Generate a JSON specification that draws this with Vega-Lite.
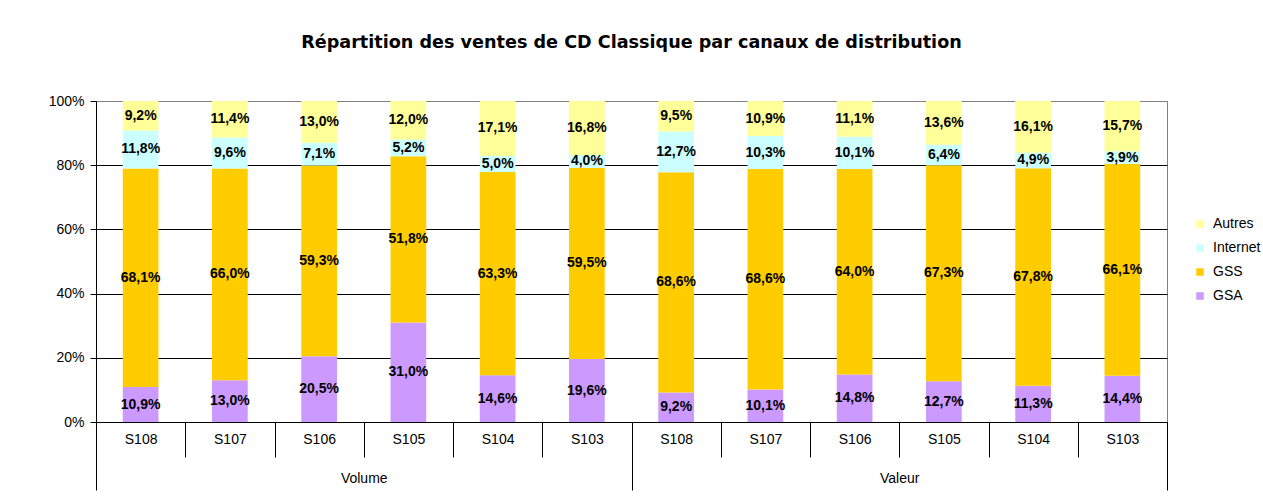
{
  "$schema": "https://vega.github.io/schema/vega-lite/v6.json",
  "width": 1071,
  "height": 321,
  "autosize": {"type": "none"},
  "padding": {"left": 96, "top": 101, "right": 96, "bottom": 82},
  "background": "white",
  "config": {
    "font": "Liberation Sans",
    "view": {"stroke": "#808080", "strokeWidth": 1},
    "locale": {"number": {"decimal": ",", "thousands": " ", "grouping": [3], "currency": ["", " €"]}}
  },
  "title": {
    "text": "Répartition des ventes de CD Classique par canaux de distribution",
    "font": "DejaVu Sans",
    "fontSize": 17.6,
    "fontWeight": "bold",
    "color": "black",
    "anchor": "middle",
    "frame": "group",
    "offset": 42
  },
  "data": {
    "values": [
      {"k": "Volume|S108", "g": "Volume", "c": "GSA", "o": 1, "v": 0.109},
      {"k": "Volume|S108", "g": "Volume", "c": "GSS", "o": 2, "v": 0.681},
      {"k": "Volume|S108", "g": "Volume", "c": "Internet", "o": 3, "v": 0.118},
      {"k": "Volume|S108", "g": "Volume", "c": "Autres", "o": 4, "v": 0.092},
      {"k": "Volume|S107", "g": "Volume", "c": "GSA", "o": 1, "v": 0.130},
      {"k": "Volume|S107", "g": "Volume", "c": "GSS", "o": 2, "v": 0.660},
      {"k": "Volume|S107", "g": "Volume", "c": "Internet", "o": 3, "v": 0.096},
      {"k": "Volume|S107", "g": "Volume", "c": "Autres", "o": 4, "v": 0.114},
      {"k": "Volume|S106", "g": "Volume", "c": "GSA", "o": 1, "v": 0.205},
      {"k": "Volume|S106", "g": "Volume", "c": "GSS", "o": 2, "v": 0.593},
      {"k": "Volume|S106", "g": "Volume", "c": "Internet", "o": 3, "v": 0.071},
      {"k": "Volume|S106", "g": "Volume", "c": "Autres", "o": 4, "v": 0.130},
      {"k": "Volume|S105", "g": "Volume", "c": "GSA", "o": 1, "v": 0.310},
      {"k": "Volume|S105", "g": "Volume", "c": "GSS", "o": 2, "v": 0.518},
      {"k": "Volume|S105", "g": "Volume", "c": "Internet", "o": 3, "v": 0.052},
      {"k": "Volume|S105", "g": "Volume", "c": "Autres", "o": 4, "v": 0.120},
      {"k": "Volume|S104", "g": "Volume", "c": "GSA", "o": 1, "v": 0.146},
      {"k": "Volume|S104", "g": "Volume", "c": "GSS", "o": 2, "v": 0.633},
      {"k": "Volume|S104", "g": "Volume", "c": "Internet", "o": 3, "v": 0.050},
      {"k": "Volume|S104", "g": "Volume", "c": "Autres", "o": 4, "v": 0.171},
      {"k": "Volume|S103", "g": "Volume", "c": "GSA", "o": 1, "v": 0.196},
      {"k": "Volume|S103", "g": "Volume", "c": "GSS", "o": 2, "v": 0.595},
      {"k": "Volume|S103", "g": "Volume", "c": "Internet", "o": 3, "v": 0.040},
      {"k": "Volume|S103", "g": "Volume", "c": "Autres", "o": 4, "v": 0.168},
      {"k": "Valeur|S108", "g": "Valeur", "c": "GSA", "o": 1, "v": 0.092},
      {"k": "Valeur|S108", "g": "Valeur", "c": "GSS", "o": 2, "v": 0.686},
      {"k": "Valeur|S108", "g": "Valeur", "c": "Internet", "o": 3, "v": 0.127},
      {"k": "Valeur|S108", "g": "Valeur", "c": "Autres", "o": 4, "v": 0.095},
      {"k": "Valeur|S107", "g": "Valeur", "c": "GSA", "o": 1, "v": 0.101},
      {"k": "Valeur|S107", "g": "Valeur", "c": "GSS", "o": 2, "v": 0.686},
      {"k": "Valeur|S107", "g": "Valeur", "c": "Internet", "o": 3, "v": 0.103},
      {"k": "Valeur|S107", "g": "Valeur", "c": "Autres", "o": 4, "v": 0.109},
      {"k": "Valeur|S106", "g": "Valeur", "c": "GSA", "o": 1, "v": 0.148},
      {"k": "Valeur|S106", "g": "Valeur", "c": "GSS", "o": 2, "v": 0.640},
      {"k": "Valeur|S106", "g": "Valeur", "c": "Internet", "o": 3, "v": 0.101},
      {"k": "Valeur|S106", "g": "Valeur", "c": "Autres", "o": 4, "v": 0.111},
      {"k": "Valeur|S105", "g": "Valeur", "c": "GSA", "o": 1, "v": 0.127},
      {"k": "Valeur|S105", "g": "Valeur", "c": "GSS", "o": 2, "v": 0.673},
      {"k": "Valeur|S105", "g": "Valeur", "c": "Internet", "o": 3, "v": 0.064},
      {"k": "Valeur|S105", "g": "Valeur", "c": "Autres", "o": 4, "v": 0.136},
      {"k": "Valeur|S104", "g": "Valeur", "c": "GSA", "o": 1, "v": 0.113},
      {"k": "Valeur|S104", "g": "Valeur", "c": "GSS", "o": 2, "v": 0.678},
      {"k": "Valeur|S104", "g": "Valeur", "c": "Internet", "o": 3, "v": 0.049},
      {"k": "Valeur|S104", "g": "Valeur", "c": "Autres", "o": 4, "v": 0.161},
      {"k": "Valeur|S103", "g": "Valeur", "c": "GSA", "o": 1, "v": 0.144},
      {"k": "Valeur|S103", "g": "Valeur", "c": "GSS", "o": 2, "v": 0.661},
      {"k": "Valeur|S103", "g": "Valeur", "c": "Internet", "o": 3, "v": 0.039},
      {"k": "Valeur|S103", "g": "Valeur", "c": "Autres", "o": 4, "v": 0.157}
    ]
  },
  "layer": [
    {
      "encoding": {
        "x": {
          "field": "k", "type": "nominal",
          "sort": ["Volume|S108","Volume|S107","Volume|S106","Volume|S105","Volume|S104","Volume|S103","Valeur|S108","Valeur|S107","Valeur|S106","Valeur|S105","Valeur|S104","Valeur|S103"],
          "scale": {"paddingInner": 0, "paddingOuter": 0},
          "axis": {
            "title": null,
            "labelExpr": "slice(datum.label, -4)",
            "labelAngle": 0,
            "labelFontSize": 14,
            "labelColor": "black",
            "labelPadding": -25,
            "tickBand": "extent",
            "tickSize": 35,
            "tickColor": "black",
            "domainColor": "black",
            "grid": false
          }
        },
        "y": {
          "field": "v", "type": "quantitative", "stack": "normalize",
          "scale": {"domain": [0, 1]},
          "axis": {
            "title": null,
            "values": [0, 0.2, 0.4, 0.6, 0.8, 1],
            "format": ".0%",
            "labelFontSize": 14,
            "labelColor": "black",
            "labelPadding": 6,
            "tickSize": 6,
            "tickColor": "black",
            "domainColor": "black",
            "grid": true,
            "gridColor": {"condition": {"test": "datum.value >= 1", "value": "#808080"}, "value": "black"},
            "gridOpacity": 1
          }
        },
        "order": {"field": "o", "type": "quantitative"}
      },
      "layer": [
        {
          "mark": {"type": "bar", "width": {"band": 0.4}},
          "encoding": {
            "color": {
              "field": "c", "type": "nominal",
              "scale": {"domain": ["Autres", "Internet", "GSS", "GSA"], "range": ["#FFFF99", "#CCFFFF", "#FFCC00", "#CC99FF"]},
              "legend": {
                "title": null,
                "orient": "none",
                "legendX": 1097,
                "legendY": 116,
                "symbolType": "square",
                "symbolSize": 56,
                "symbolStrokeWidth": 0,
                "labelFontSize": 14,
                "labelColor": "black",
                "labelOffset": 6,
                "rowPadding": 10,
                "padding": 0
              }
            }
          }
        },
        {
          "mark": {"type": "text", "fontSize": 14, "fontWeight": "bold", "color": "black", "letterSpacing": 2},
          "encoding": {
            "y": {"field": "v", "type": "quantitative", "stack": "normalize", "bandPosition": 0.5},
            "text": {"field": "v", "type": "quantitative", "format": ".1%"},
            "detail": {"field": "c"}
          }
        }
      ]
    },
    {
      "mark": {"type": "rule", "opacity": 0},
      "encoding": {
        "x": {
          "field": "g", "type": "nominal", "sort": ["Volume", "Valeur"],
          "scale": {"paddingInner": 0, "paddingOuter": 0},
          "axis": {
            "title": null,
            "orient": "bottom",
            "labelAngle": 0,
            "labelFontSize": 14,
            "labelColor": "black",
            "labelPadding": -19,
            "tickBand": "extent",
            "tickSize": 68,
            "tickColor": "black",
            "domain": false,
            "grid": false
          }
        }
      }
    }
  ],
  "resolve": {"scale": {"x": "independent"}, "axis": {"x": "independent"}},
  "usermeta": {"embedOptions": {"actions": false}}
}
